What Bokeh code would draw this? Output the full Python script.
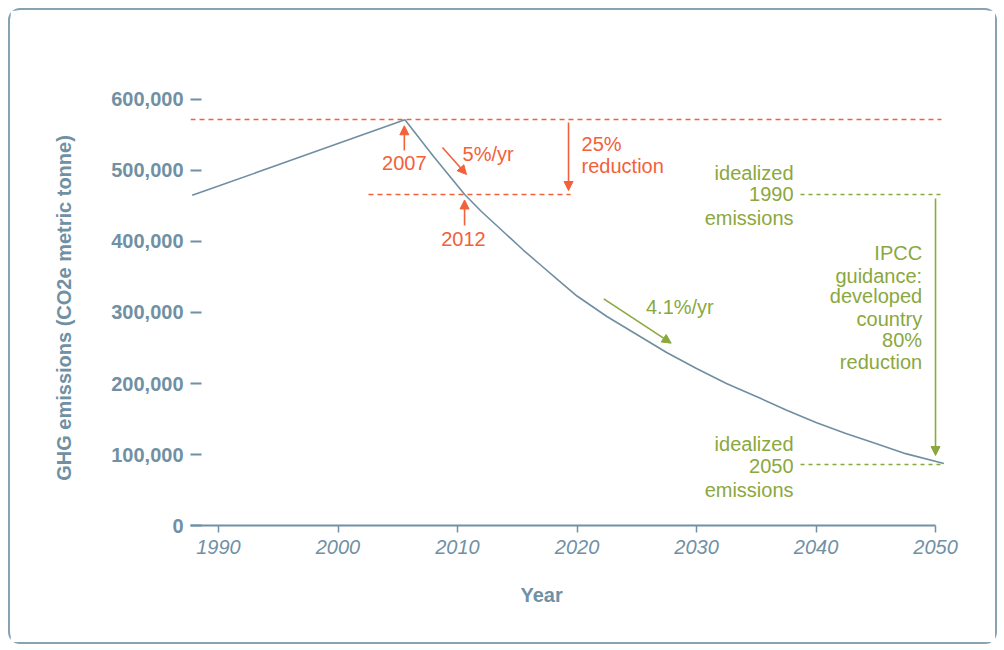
from bokeh.plotting import figure
from bokeh.models import (Range1d, FixedTicker, NumeralTickFormatter, Arrow, NormalHead,
                          ColumnDataSource, Title)
from bokeh.core.properties import value
from bokeh.embed import file_html
from bokeh.resources import INLINE

# ---------------- data ----------------
hist_years = [1987.8, 1990, 1995, 2000, 2005.6]
hist_values = [465000, 478000, 508000, 538000, 571500]

path_years = [2005.6, 2008, 2010.6, 2012, 2014, 2015.5, 2017, 2018.5, 2020, 2022.5, 2025,
              2027.5, 2030, 2032.5, 2035, 2037.5, 2040, 2042.5, 2045, 2047.5, 2050.7]
path_values = [571500, 519700, 466200, 442300, 411300, 388000, 366200, 344400, 323200, 294400, 269000,
               243700, 221100, 200000, 181700, 162700, 145100, 129600, 115500, 101200, 87300]

x_ticks = [1990, 2000, 2010, 2020, 2030, 2040, 2050]
y_ticks = [0, 100000, 200000, 300000, 400000, 500000, 600000]

peak_level = 571800      # 2007 level
level_2012 = 466200      # 25% below peak / idealized 1990
level_2050 = 85900       # idealized 2050

FONT = "Liberation Sans"
SLATE = "#7090a4"
CURVE = "#6f8ea1"
RED = "#f2613a"
GREEN = "#8aa83e"
BORDER = "#86a2b3"

X0, X1 = 1987.657, 2052.09
Y1 = 612676

p = figure(width=989, height=636, output_backend="svg", toolbar_location=None,
           x_range=Range1d(X0, X1), y_range=Range1d(0, Y1),
           min_border_left=180, min_border_right=39, min_border_top=80, min_border_bottom=121)
p.styles = {"border": f"2px solid {BORDER}", "border-radius": "12px",
            "margin-left": "8px", "margin-top": "8px"}
p.outline_line_color = None
p.xgrid.grid_line_color = None
p.ygrid.grid_line_color = None
p.background_fill_color = "white"
p.border_fill_color = "white"

# x axis
xa = p.xaxis[0]
xa.ticker = FixedTicker(ticks=x_ticks)
xa.bounds = (X0, 2050)
xa.axis_line_color = SLATE
xa.axis_line_width = 2
xa.major_tick_line_color = SLATE
xa.major_tick_line_width = 1.5
xa.major_tick_in = 0
xa.major_tick_out = 7
xa.minor_tick_line_color = None
xa.major_label_text_font = FONT
xa.major_label_text_font_style = "italic"
xa.major_label_text_font_size = "20px"
xa.major_label_text_color = SLATE
xa.major_label_standoff = 7

# y axis
ya = p.yaxis[0]
ya.ticker = FixedTicker(ticks=y_ticks)
ya.formatter = NumeralTickFormatter(format="0,0")
ya.axis_line_color = None
ya.major_tick_line_color = SLATE
ya.major_tick_line_width = 2
ya.major_tick_in = 11
ya.major_tick_out = 0
ya.minor_tick_line_color = None
ya.major_label_text_font = FONT
ya.major_label_text_font_style = "bold"
ya.major_label_text_font_size = "20px"
ya.major_label_text_color = SLATE
ya.major_label_standoff = 7
ya.axis_label = "GHG emissions (CO2e metric tonne)"
ya.axis_label_text_font = FONT
ya.axis_label_text_font_style = "bold"
ya.axis_label_text_font_size = "20px"
ya.axis_label_text_color = SLATE
ya.axis_label_standoff = 33

p.add_layout(Title(text="Year", align="left", offset=330, standoff=54, vertical_align="top",
                   text_font=FONT, text_font_style="bold", text_font_size="20px",
                   text_color=SLATE), "below")

# reference dashed lines
p.line([X0, 2050.5], [peak_level, peak_level], line_color=RED, line_width=1.5, line_dash="5 4")
p.line([2002.55, 2019.46], [level_2012, level_2012], line_color=RED, line_width=1.5, line_dash="5 4")
p.line([2038.7, 2050.5], [level_2012, level_2012], line_color=GREEN, line_width=1.5, line_dash="4 4")
p.line([2038.7, 2050.5], [level_2050, level_2050], line_color=GREEN, line_width=1.5, line_dash="4 4")

# emissions curve
p.line(hist_years + path_years[1:], hist_values + path_values[1:], line_color=CURVE, line_width=1.6)

# arrows
red_arrows = ColumnDataSource(dict(
    x0=[2005.55, 2010.59, 2008.74, 2019.29],
    y0=[528200, 422500, 532400, 567600],
    x1=[2005.55, 2010.59, 2010.75, 2019.29],
    y1=[563000, 458500, 494400, 471800]))
p.add_layout(Arrow(source=red_arrows, x_start="x0", y_start="y0", x_end="x1", y_end="y1",
                   line_color=RED, line_width=1.6,
                   end=NormalHead(size=9, fill_color=RED, line_color=RED, line_width=1)))
green_arrows = ColumnDataSource(dict(
    x0=[2022.24, 2050.0], y0=[319300, 460600],
    x1=[2027.88, 2050.0], y1=[256800, 98600]))
p.add_layout(Arrow(source=green_arrows, x_start="x0", y_start="y0", x_end="x1", y_end="y1",
                   line_color=GREEN, line_width=1.6,
                   end=NormalHead(size=9, fill_color=GREEN, line_color=GREEN, line_width=1)))

def txt(xs, ys, texts, color, align):
    p.text(x=xs, y=ys, text=texts, text_color=color, text_align=align, text_baseline="middle",
           text_font=value(FONT), text_font_size="20px")

# red annotations
txt([2005.55, 2010.5], [509900, 404200], ["2007", "2012"], RED, "center")
txt([2010.42, 2020.38, 2020.38], [523900, 538000, 507000], ["5%/yr", "25%", "reduction"], RED, "left")

# green annotations
txt([2025.77], [307500], ["4.1%/yr"], GREEN, "left")
txt([2038.12] * 6,
    [495800, 466200, 433800, 115000, 84500, 50700],
    ["idealized", "1990", "emissions", "idealized", "2050", "emissions"], GREEN, "right")
txt([2048.88] * 6,
    [384000, 351800, 322700, 291300, 260600, 230600],
    ["IPCC", "guidance:", "developed", "country", "80%", "reduction"], GREEN, "right")

open("out.html", "w").write(file_html(p, INLINE))
